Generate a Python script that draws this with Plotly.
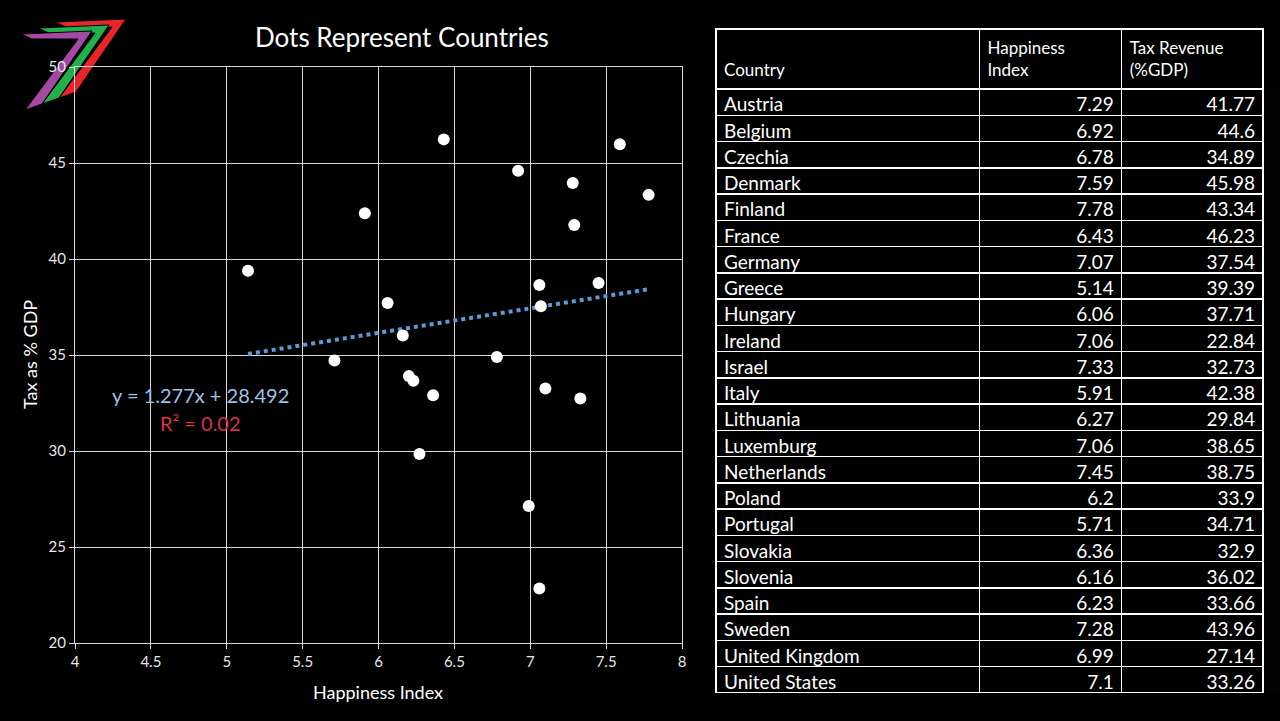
import plotly.graph_objects as go

countries = ["Austria", "Belgium", "Czechia", "Denmark", "Finland", "France", "Germany", "Greece",
             "Hungary", "Ireland", "Israel", "Italy", "Lithuania", "Luxemburg", "Netherlands", "Poland",
             "Portugal", "Slovakia", "Slovenia", "Spain", "Sweden", "United Kingdom", "United States"]
happiness = [7.29, 6.92, 6.78, 7.59, 7.78, 6.43, 7.07, 5.14, 6.06, 7.06, 7.33, 5.91, 6.27, 7.06, 7.45,
             6.2, 5.71, 6.36, 6.16, 6.23, 7.28, 6.99, 7.1]
tax = [41.77, 44.6, 34.89, 45.98, 43.34, 46.23, 37.54, 39.39, 37.71, 22.84, 32.73, 42.38, 29.84, 38.65,
       38.75, 33.9, 34.71, 32.9, 36.02, 33.66, 43.96, 27.14, 33.26]
happiness_txt = ["7.29", "6.92", "6.78", "7.59", "7.78", "6.43", "7.07", "5.14", "6.06", "7.06", "7.33",
                 "5.91", "6.27", "7.06", "7.45", "6.2", "5.71", "6.36", "6.16", "6.23", "7.28", "6.99", "7.1"]
tax_txt = ["41.77", "44.6", "34.89", "45.98", "43.34", "46.23", "37.54", "39.39", "37.71", "22.84", "32.73",
           "42.38", "29.84", "38.65", "38.75", "33.9", "34.71", "32.9", "36.02", "33.66", "43.96", "27.14", "33.26"]
headers = ["\u00a0<br>Country", "Happiness<br>Index", "Tax Revenue<br>(%GDP)"]

slope = 1.277
intercept = 28.492
r_squared = 0.02

W, H = 1280, 721
FONT = "Lato, Noto Sans, sans-serif"


def px(x, y):
    return x / W, 1 - y / H


fig = go.Figure()

# trendline over the x range of the data
x0, x1 = min(happiness), max(happiness)
fig.add_trace(go.Scatter(x=[x0, x1], y=[slope * x0 + intercept, slope * x1 + intercept],
                         mode='lines', line=dict(color='#5B9BD5', width=4, dash='dot'),
                         hoverinfo='skip', showlegend=False))
fig.add_trace(go.Scatter(x=happiness, y=tax, mode='markers', text=countries,
                         marker=dict(color='white', size=12), showlegend=False))

table_top, table_bottom = 29, 693
header_h = 60
row_h = (table_bottom - table_top - header_h) / len(countries)
fig.add_trace(go.Table(
    domain=dict(x=[716 / W, 1263 / W], y=[1 - table_bottom / H, 1 - table_top / H]),
    columnwidth=[263, 142, 141],
    header=dict(values=headers,
                align=['left', 'left', 'left'], height=header_h,
                fill_color='black', line=dict(color='white', width=1.5),
                font=dict(family=FONT, size=17, color='white')),
    cells=dict(values=[countries, happiness_txt, tax_txt],
               align=['left', 'right', 'right'], height=row_h,
               fill_color='black', line=dict(color='white', width=1.5),
               font=dict(family=FONT, size=19, color='white')),
))

axis_style = dict(showgrid=True, gridcolor='#d9d9d9', gridwidth=1, zeroline=False,
                  showline=True, linecolor='#d9d9d9', linewidth=1, mirror=True,
                  ticks='outside', ticklen=5, tickcolor='#d9d9d9', automargin=False,
                  tickfont=dict(family=FONT, size=15, color='#e6e6e6'))

fig.update_layout(
    width=W, height=H,
    paper_bgcolor='black', plot_bgcolor='rgba(0,0,0,0)',
    margin=dict(l=0, r=0, t=0, b=0, pad=0, autoexpand=False),
    showlegend=False,
    xaxis=dict(range=[4, 8], dtick=0.5, domain=[75 / W, 682 / W], **axis_style),
    yaxis=dict(range=[20, 50], dtick=5, domain=[1 - 643 / H, 1 - 67 / H], **axis_style),
)

label = dict(xref='paper', yref='paper', xanchor='center', yanchor='middle', showarrow=False)

# axis titles and chart title
fig.add_annotation(x=402 / W, y=1 - 37 / H, text="Dots Represent Countries",
                   font=dict(family=FONT, size=26, color='white'), **label)
fig.add_annotation(x=378 / W, y=1 - 692 / H, text="Happiness Index",
                   font=dict(family=FONT, size=18, color='white'), **label)
fig.add_annotation(x=30 / W, y=1 - 355 / H, text="Tax as % GDP", textangle=-90,
                   font=dict(family=FONT, size=18, color='white'), **label)

# regression labels
fig.add_annotation(x=200 / W, y=1 - 395 / H, text=f"y = {slope}x + {intercept}",
                   font=dict(family=FONT, size=20, color='#9DC3E6'), **label)
fig.add_annotation(x=200 / W, y=1 - 423 / H, text=f"R² = {r_squared}",
                   font=dict(family=FONT, size=20, color='#D9304A'), **label)

# logo: three stacked "7" stripes, drawn under the axes
base = [(21, 34), (92, 31), (42, 104), (25, 110), (78, 39), (32, 39)]
for (dx, dy), col in [((34, -12), '#E8262A'), ((17, -6), '#22B04B'), ((0, 0), '#A349A4')]:
    pts = [px(x + dx, y + dy) for x, y in base]
    path = "M " + " L ".join(f"{a},{b}" for a, b in pts) + " Z"
    fig.add_shape(type='path', path=path, xref='paper', yref='paper',
                  fillcolor=col, line=dict(color='black', width=1), layer='below')

fig.write_html("out.html", config={'displayModeBar': False},
               post_script="document.body.style.margin='0';document.body.style.background='black';")
